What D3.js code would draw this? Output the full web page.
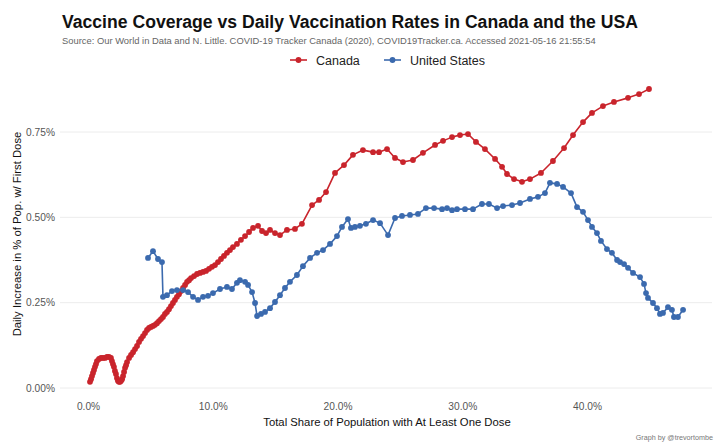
<!DOCTYPE html>
<html>
<head>
<meta charset="utf-8">
<script src="https://cdn.jsdelivr.net/npm/d3@7/dist/d3.min.js"></script>
<style>
  html, body { margin: 0; padding: 0; background: #ffffff; }
  svg { display: block; font-family: "Liberation Sans", Arial, Helvetica, sans-serif; }
</style>
</head>
<body>
<svg id="chart" width="720" height="446"></svg>
<script>
// ---- Data (x: total share with at least one dose, %; y: daily increase, % of pop.) ----
const canadaShare = [0.16,0.24,0.32,0.40,0.48,0.56,0.64,0.72,0.88,1.04,1.20,1.36,1.52,1.68,1.84,1.92,2.00,2.08,2.16,2.24,2.32,2.40,2.48,2.57,2.65,2.73,2.81,2.89,2.97,3.05,3.13,3.29,3.45,3.61,3.77,3.93,4.09,4.25,4.41,4.57,4.73,4.89,5.05,5.21,5.37,5.53,5.69,5.85,6.01,6.17,6.33,6.49,6.65,6.81,6.97,7.13,7.29,7.46,7.62,7.78,7.94,8.10,8.26,8.50,8.74,8.98,9.22,9.46,9.70,9.94,10.18,10.42,10.66,10.90,11.14,11.38,11.62,11.94,12.26,12.59,12.91,13.23,13.63,13.95,14.27,14.59,14.99,15.39,15.95,16.59,17.15,17.96,18.52,19.08,19.80,20.52,21.24,22.04,22.85,23.33,23.97,24.61,25.25,26.05,26.85,27.82,28.46,29.18,29.82,30.46,31.10,31.82,32.63,33.19,33.59,34.15,34.79,35.43,36.31,37.27,38.16,38.88,39.68,40.40,41.28,42.16,43.29,44.17,44.97];
const canadaDaily = [0.018,0.026,0.035,0.044,0.053,0.062,0.070,0.079,0.085,0.088,0.088,0.088,0.091,0.091,0.088,0.079,0.070,0.062,0.050,0.041,0.029,0.021,0.018,0.018,0.021,0.026,0.035,0.047,0.059,0.067,0.076,0.088,0.097,0.105,0.114,0.123,0.135,0.144,0.152,0.161,0.170,0.176,0.179,0.182,0.185,0.190,0.196,0.202,0.208,0.217,0.223,0.231,0.240,0.249,0.258,0.267,0.275,0.284,0.293,0.302,0.311,0.316,0.322,0.328,0.334,0.337,0.340,0.343,0.349,0.355,0.360,0.369,0.378,0.387,0.396,0.404,0.413,0.422,0.434,0.445,0.457,0.469,0.475,0.460,0.454,0.463,0.454,0.448,0.463,0.466,0.481,0.536,0.551,0.574,0.630,0.653,0.683,0.697,0.691,0.691,0.700,0.674,0.662,0.668,0.689,0.712,0.724,0.735,0.741,0.744,0.721,0.700,0.671,0.648,0.627,0.612,0.604,0.612,0.630,0.665,0.703,0.741,0.779,0.806,0.826,0.838,0.850,0.861,0.876];

const usShare = [4.81,5.21,5.61,5.93,6.01,6.33,6.73,7.13,7.62,8.02,8.42,8.82,9.22,9.62,10.02,10.58,11.14,11.54,11.94,12.18,12.59,12.83,13.15,13.39,13.55,13.87,14.19,14.59,14.99,15.39,15.79,16.19,16.75,17.23,17.80,18.36,18.84,19.40,19.96,20.36,20.84,21.08,21.40,21.80,22.28,22.85,23.41,24.05,24.61,25.17,25.81,26.45,27.09,27.74,28.38,28.78,29.18,29.58,30.22,30.86,31.58,32.14,32.79,33.27,33.99,34.63,35.43,36.07,36.63,37.03,37.60,38.08,38.72,39.20,39.68,40.08,40.40,40.80,41.12,41.60,42.00,42.41,42.65,42.97,43.29,43.69,44.25,44.57,44.73,44.89,45.29,45.61,45.85,46.09,46.49,46.81,46.97,47.29,47.70];
const usDaily = [0.381,0.401,0.378,0.369,0.267,0.272,0.284,0.287,0.287,0.281,0.267,0.258,0.267,0.270,0.278,0.290,0.296,0.290,0.308,0.316,0.311,0.302,0.281,0.249,0.211,0.217,0.223,0.234,0.252,0.272,0.293,0.311,0.331,0.357,0.381,0.396,0.404,0.422,0.445,0.472,0.495,0.469,0.472,0.475,0.481,0.492,0.483,0.448,0.498,0.504,0.507,0.510,0.527,0.527,0.524,0.527,0.521,0.524,0.524,0.524,0.539,0.539,0.527,0.533,0.536,0.542,0.554,0.560,0.571,0.601,0.598,0.589,0.571,0.530,0.516,0.492,0.472,0.454,0.431,0.407,0.396,0.375,0.369,0.363,0.352,0.337,0.325,0.305,0.278,0.264,0.249,0.234,0.217,0.220,0.237,0.229,0.208,0.208,0.229];

const seriesNames = ["Canada", "United States"];
const seriesColors = ["#c9242c", "#3b6aae"];
const xTicks = [0, 10, 20, 30, 40];
const yTicks = [0, 0.25, 0.5, 0.75];

const titleText = "Vaccine Coverage vs Daily Vaccination Rates in Canada and the USA";
const subtitleText = "Source: Our World in Data and N. Little. COVID-19 Tracker Canada (2020), COVID19Tracker.ca. Accessed 2021-05-16 21:55:54";
const xTitle = "Total Share of Population with At Least One Dose";
const yTitle = "Daily Increase in % of Pop. w/ First Dose";
const captionText = "Graph by @trevortombe";

// ---- Build ----
const svg = d3.select("#chart");
const panel = {left: 60, right: 712};

const x = d3.scaleLinear().domain([0, 40]).range([88, 587]);
const y = d3.scaleLinear().domain([0, 0.75]).range([388, 132]);

// gridlines
svg.append("g").selectAll("line").data(yTicks).join("line")
  .attr("x1", panel.left).attr("x2", panel.right)
  .attr("y1", d => y(d)).attr("y2", d => y(d))
  .attr("stroke", "#ececec").attr("stroke-width", 1);

// y axis labels
const yAxis = d3.axisLeft(y).tickValues(yTicks).tickSize(0).tickPadding(0)
  .tickFormat(d => d3.format(".2f")(d) + "%");
const gy = svg.append("g").attr("transform", "translate(55,0)").call(yAxis);
gy.select(".domain").remove();
gy.selectAll("text").attr("fill", "#555").style("font-size", "10.2px")
  .style("font-family", "'Liberation Sans', Arial, sans-serif");

// x axis labels
const xAxis = d3.axisBottom(x).tickValues(xTicks).tickSize(0).tickPadding(0)
  .tickFormat(d => d3.format(".1f")(d) + "%");
const gx = svg.append("g").attr("transform", "translate(0,403)").call(xAxis);
gx.select(".domain").remove();
gx.selectAll("text").attr("fill", "#555").style("font-size", "10.2px")
  .style("font-family", "'Liberation Sans', Arial, sans-serif");

// series
const series = [
  {name: seriesNames[0], color: seriesColors[0], pts: canadaShare.map((s, i) => [s, canadaDaily[i]])},
  {name: seriesNames[1], color: seriesColors[1], pts: usShare.map((s, i) => [s, usDaily[i]])}
];
const line = d3.line().x(d => x(d[0])).y(d => y(d[1]));
series.forEach(s => {
  const g = svg.append("g");
  g.append("path").attr("d", line(s.pts)).attr("fill", "none")
    .attr("stroke", s.color).attr("stroke-width", 1.6).attr("stroke-linejoin", "round");
  g.selectAll("circle").data(s.pts).join("circle")
    .attr("cx", d => x(d[0])).attr("cy", d => y(d[1])).attr("r", 2.9)
    .attr("fill", s.color);
});

// titles
svg.append("text").attr("x", 62).attr("y", 28).text(titleText)
  .attr("font-weight", "bold").attr("font-size", "17.6px").attr("fill", "#111");
svg.append("text").attr("x", 62).attr("y", 44).text(subtitleText)
  .attr("font-size", "9.4px").attr("fill", "#666");

// legend
const legendX = [290, 384];
const lg = svg.append("g");
series.forEach((s, i) => {
  const gx0 = legendX[i];
  lg.append("line").attr("x1", gx0).attr("x2", gx0 + 17).attr("y1", 60).attr("y2", 60)
    .attr("stroke", s.color).attr("stroke-width", 1.6);
  lg.append("circle").attr("cx", gx0 + 8.5).attr("cy", 60).attr("r", 2.9).attr("fill", s.color);
  lg.append("text").attr("x", gx0 + 26).attr("y", 64.5).text(s.name)
    .attr("font-size", "12.5px").attr("fill", "#222");
});

// axis titles
svg.append("text").attr("x", 387).attr("y", 426).attr("text-anchor", "middle")
  .text(xTitle).attr("font-size", "11.3px").attr("fill", "#111");
svg.append("text").attr("transform", "translate(21,234) rotate(-90)")
  .attr("text-anchor", "middle").text(yTitle).attr("font-size", "11.3px").attr("fill", "#111");

// caption
svg.append("text").attr("x", 713).attr("y", 440).attr("text-anchor", "end")
  .text(captionText).attr("font-size", "7.2px").attr("fill", "#777");
</script>
</body>
</html>
